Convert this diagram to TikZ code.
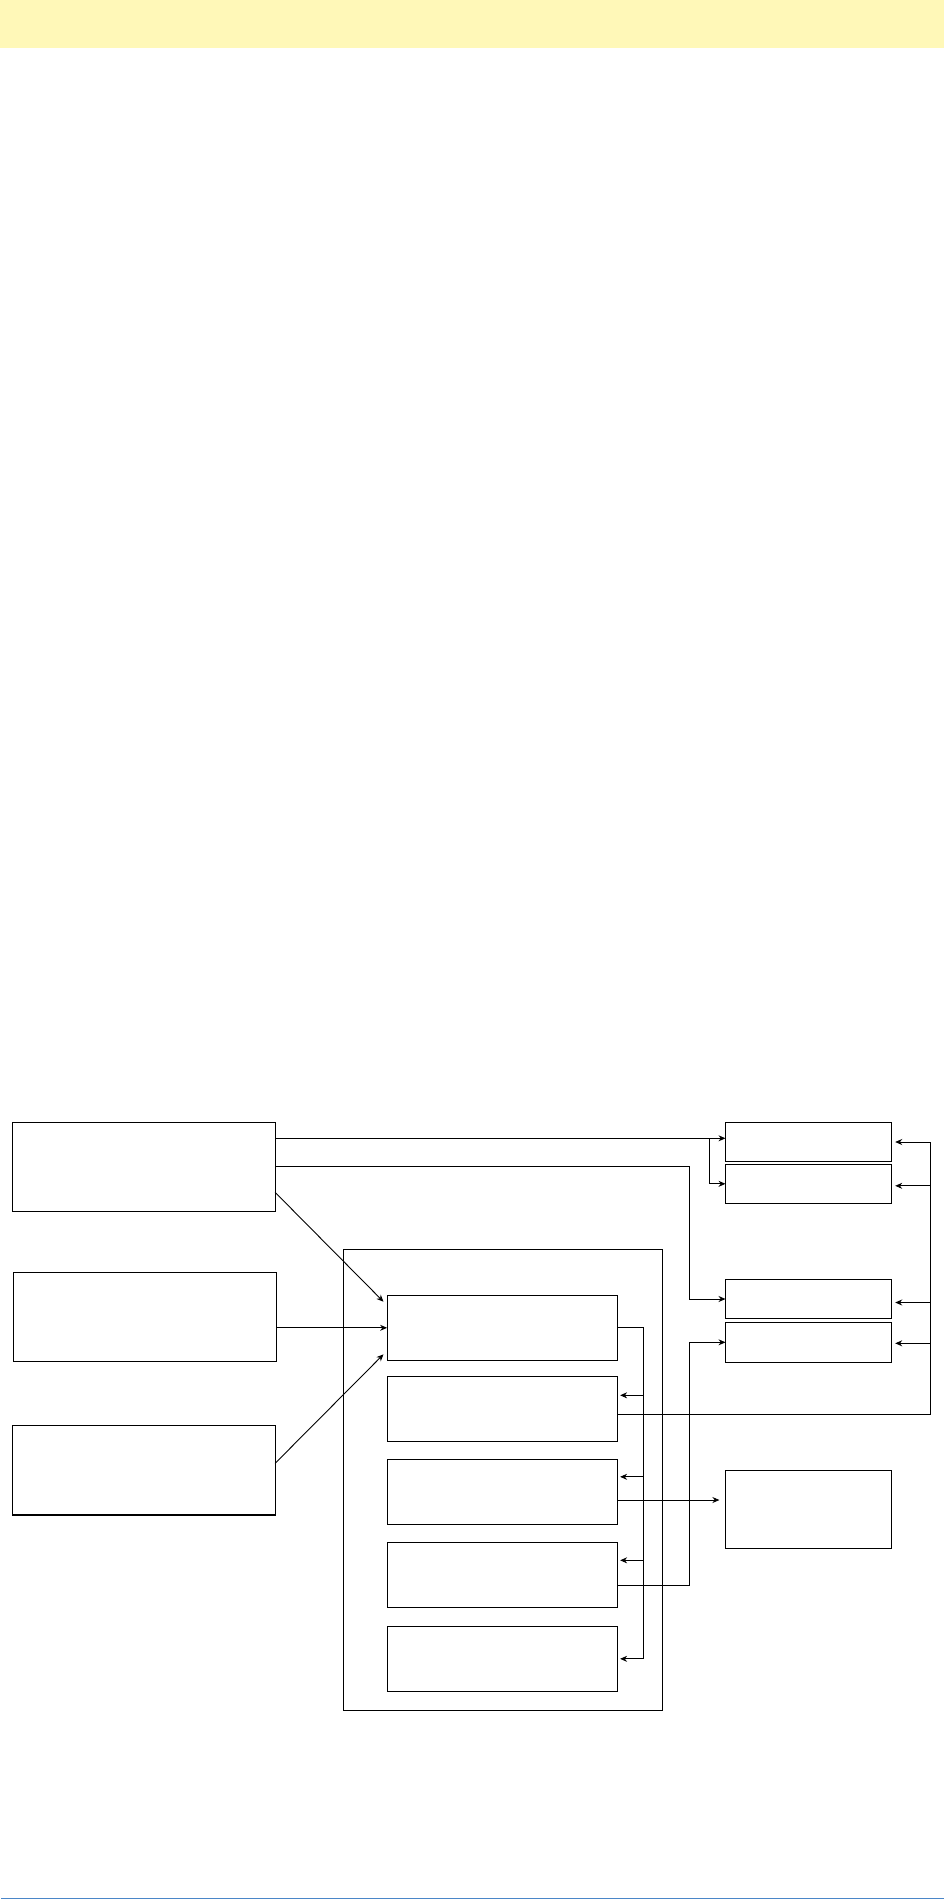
\documentclass[tikz,border=0pt]{standalone}
\usetikzlibrary{arrows.meta,calc}
\definecolor{banner}{RGB}{255,248,184}
\definecolor{rulecol}{RGB}{74,134,200}
\begin{document}
\begin{tikzpicture}[x=1pt,y=-1pt,line width=0.9pt,
  box/.style={draw=black,line width=0.9pt,inner sep=0pt,outer sep=0pt,fill=white},
  lbox/.style={box,minimum width=262.5pt,minimum height=89pt},
  rbox/.style={box,minimum width=166.1pt},
  ibox/.style={box,minimum width=230.6pt,minimum height=65pt},
  arr/.style={-{Stealth[length=7pt,width=6pt]},line width=0.9pt}]
\useasboundingbox (0,0) rectangle (944,1899);
% banner and bottom rule
\fill[banner] (0,0) rectangle (944,47.7);
\fill[rulecol] (1,1897.6) rectangle (944,1899);
% container
\node[box,minimum width=318.5pt,minimum height=461pt] (C) at (503.05,1479.8) {};
% left boxes
\node[lbox] (L1) at (143.85,1166.8) {};
\node[lbox,minimum width=263.1pt] (L2) at (144.75,1316.8) {};
\node[lbox,minimum height=89.7pt] (L3) at (143.85,1470.15) {};
\draw[line width=2pt] (L3.south west) -- (L3.south east);
% right boxes
\node[rbox,minimum height=39.4pt] (R1) at (808.55,1142) {};
\node[rbox,minimum height=39pt] (R2) at (808.55,1183.8) {};
\node[rbox,minimum height=39.4pt] (R3) at (808.55,1299) {};
\node[rbox,minimum height=40pt] (R4) at (808.55,1342.3) {};
\node[rbox,minimum height=78pt] (R5) at (808.55,1509.3) {};
% inner boxes
\node[ibox] (I1) at (502.4,1327.8) {};
\node[ibox] (I2) at (502.4,1408.8) {};
\node[ibox] (I3) at (502.4,1491.8) {};
\node[ibox] (I4) at (502.4,1574.8) {};
\node[ibox] (I5) at (502.4,1658.8) {};
% connectors from L1
\coordinate (a1) at ([yshift=28.5pt]L1.east);
\draw[arr] (a1) -- (a1 -| R1.west);
\coordinate (b1) at ($(a1 -| R1.west)+(-16.3,0)$);
\draw[arr] (b1) |- (R2.west);
\draw[arr] (L1.east) -| ($(R3.west)+(-36.2,0)$) -- (R3.west);
\draw[arr] ([yshift=-25.5pt]L1.east) -- ([xshift=-3.6pt,yshift=-6.4pt]I1.north west);
% L2, L3 to I1
\draw[arr] (I1.west -| L2.east) -- (I1.west);
\draw[arr] ([yshift=6.8pt]L3.east) -- ([xshift=-3.6pt,yshift=6pt]I1.south west);
% bus from I1 to I2..I5
\coordinate (bus) at ($(I1.east)+(25.9,0)$);
\draw (I1.east) -- (bus) -- (bus |- I5.east);
\foreach \n/\s in {I2/13.5,I3/15,I4/14.5,I5/0}{
  \coordinate (t) at ([xshift=2.4pt,yshift=\s pt]\n.east);
  \draw[arr] (t -| bus) -- (t);
}
% right bus from I2 to R1..R4
\coordinate (rb) at ($(R1.east)+(38.6,0)$);
\draw ([yshift=-5.5pt]I2.east) -| (rb);
\foreach \n/\s in {R1/0,R2/-2,R3/-3.5,R4/-1}{
  \coordinate (t) at ([xshift=3.6pt,yshift=\s pt]\n.east);
  \draw[arr] (t -| rb) -- (t);
}
% I3 to R5
\coordinate (c8) at ([yshift=-8.2pt]I3.east);
\coordinate (r5w) at ([xshift=-6.1pt]R5.west);
\draw[arr] (c8) -- (c8 -| r5w);
% I4 to R4
\draw[arr] ([yshift=-10.5pt]I4.east) -| ($(R4.west)+(-36.2,0)$) -- (R4.west);
\end{tikzpicture}
\end{document}
